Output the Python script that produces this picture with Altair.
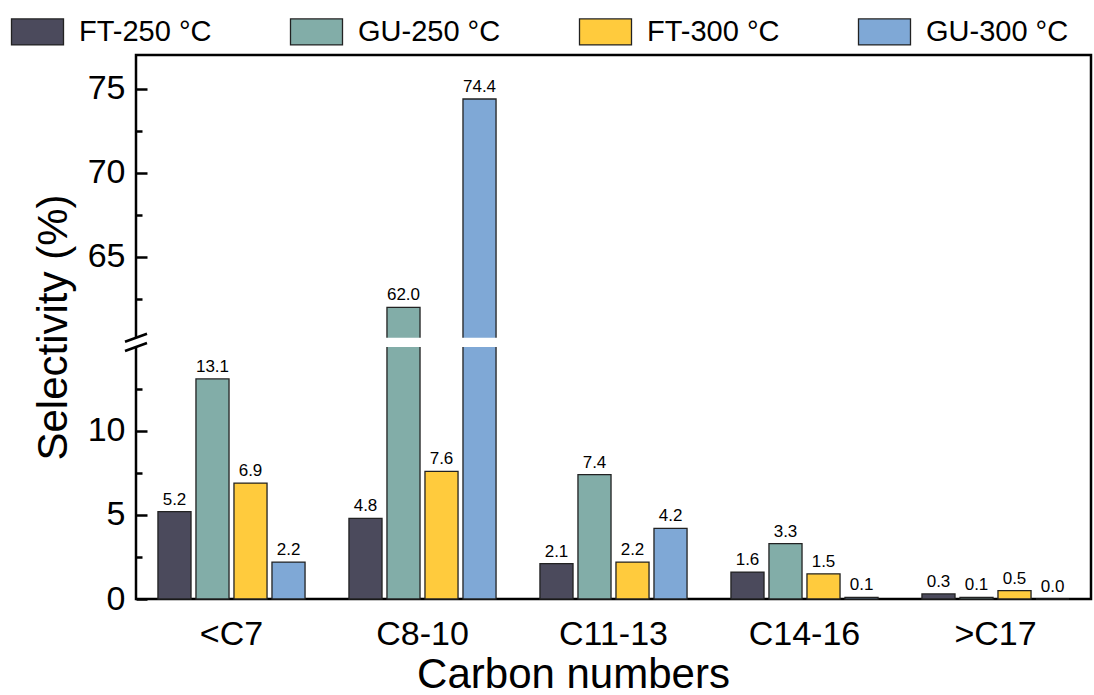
import altair as alt
import pandas as pd

categories = ["<C7", "C8-10", "C11-13", "C14-16", ">C17"]
series = ["FT-250 °C", "GU-250 °C", "FT-300 °C", "GU-300 °C"]
colors = ["#4b4a5c", "#82ada8", "#ffcb3d", "#7fa8d6"]
values = {
    "FT-250 °C": [5.2, 4.8, 2.1, 1.6, 0.3],
    "GU-250 °C": [13.1, 62.0, 7.4, 3.3, 0.1],
    "FT-300 °C": [6.9, 7.6, 2.2, 1.5, 0.5],
    "GU-300 °C": [2.2, 74.4, 4.2, 0.1, 0.0],
}
major_ticks = [0, 5, 10, 65, 70, 75]
minor_ticks = [2.5, 7.5, 12.5, 62.5, 67.5, 72.5]

# broken axis: 0-15 shown as is, values above the break shifted down by OFF
BREAK_LOW = 15.0
BREAK_HIGH = 15.55
OFF = 44.64
TOP = 32.38

W, H = 955, 544

rows = []
for s in series:
    for c, v in zip(categories, values[s]):
        rows.append({"cat": c, "series": s, "v": v})
df = pd.DataFrame(rows)

def disp(t):
    return t - OFF if t > BREAK_LOW else t

major_d = [disp(t) for t in major_ticks]
all_d = sorted(major_d + [disp(t) for t in minor_ticks])

real_expr = f"(datum.value > {BREAK_LOW} ? datum.value + {OFF} : datum.value)"

yscale = alt.Scale(domain=[0, TOP], nice=False, zero=True)

base = alt.Chart(df).transform_calculate(
    d=f"datum.v > {BREAK_LOW} ? datum.v - {OFF} : datum.v",
    lab="format(datum.v, '.1f')",
)

xenc = alt.X(
    "cat:N",
    sort=categories,
    scale=alt.Scale(paddingInner=0.204, paddingOuter=0.102),
    axis=alt.Axis(
        title="Carbon numbers",
        labelAngle=0,
        labelFontSize=34,
        labelPadding=18,
        titleFontSize=42,
        titlePadding=3,
        titleX=437,
        titleFontWeight="normal",
        ticks=False,
        domain=False,
        labelColor="black",
        titleColor="black",
    ),
)
xoff = alt.XOffset(
    "series:N", sort=series, scale=alt.Scale(paddingInner=0.13, paddingOuter=0.065)
)

bars = base.mark_bar(stroke="#222222", strokeWidth=1.3).encode(
    x=xenc,
    xOffset=xoff,
    y=alt.Y(
        "d:Q",
        scale=yscale,
        axis=alt.Axis(
            orient="left",
            values=major_d,
            labelExpr=f"format(round({real_expr}), 'd')",
            ticks=False,
            tickSize=0,
            domain=False,
            grid=False,
            labelFontSize=34,
            labelPadding=11,
            labelColor="black",
            title="Selectivity (%)",
            titleFontSize=42,
            titleFontWeight="normal",
            titleColor="black",
            titlePadding=12,
        ),
    ),
    color=alt.Color(
        "series:N",
        sort=series,
        scale=alt.Scale(domain=series, range=colors),
        legend=alt.Legend(
            title=None,
            orient="none",
            legendX=-126,
            legendY=-38,
            direction="horizontal",
            columns=4,
            symbolType="M-1,-1H3V1H-1Z",
            symbolSize=676,
            symbolStrokeColor="#222222",
            symbolStrokeWidth=1.3,
            symbolOpacity=1,
            labelFontSize=29,
            labelOffset=40,
            labelColor="black",
            columnPadding=75,
            padding=0,
        ),
    ),
)

texts = base.mark_text(baseline="bottom", dy=-3, fontSize=17, color="black").encode(
    x=alt.X("cat:N", sort=categories),
    xOffset=xoff,
    y=alt.Y("d:Q", scale=yscale, axis=None),
    text="lab:N",
)

break_df = pd.DataFrame({"b0": [BREAK_LOW], "b1": [BREAK_HIGH]})
gap = alt.Chart(break_df).mark_rect(color="white").encode(
    x=alt.value(-6),
    x2=alt.value(W - 2),
    y=alt.Y(
        "b0:Q",
        scale=yscale,
        axis=alt.Axis(
            orient="right",
            offset=-W,
            values=all_d,
            labels=False,
            domain=False,
            grid=False,
            ticks=True,
            tickColor="black",
            tickWidth=2.5,
            tickSize={
                "condition": {
                    "test": f"abs({real_expr} / 5 - round({real_expr} / 5)) < 0.01",
                    "value": 11,
                },
                "value": 6,
            },
            title="",
        ),
    ),
    y2="b1:Q",
)

slash_df = pd.DataFrame({"b": [BREAK_LOW, BREAK_HIGH]})
slashes = alt.Chart(slash_df).mark_rule(
    color="black", strokeWidth=2.5, yOffset=4, y2Offset=-4
).encode(
    x=alt.value(-11),
    x2=alt.value(11),
    y=alt.Y("b:Q", scale=yscale, axis=None),
    y2="b:Q",
)

chart = (
    alt.layer(bars, texts, gap, slashes)
    .resolve_scale(y="independent")
    .properties(
        width=W,
        height=H,
        autosize=alt.AutoSizeParams(type="none"),
        padding={"left": 136, "top": 55, "right": 3, "bottom": 96},
    )
    .configure(font="Liberation Sans")
    .configure_view(stroke="black", strokeWidth=2.5)
)

chart.save("out.html", embed_options={"renderer": "svg", "actions": False})
